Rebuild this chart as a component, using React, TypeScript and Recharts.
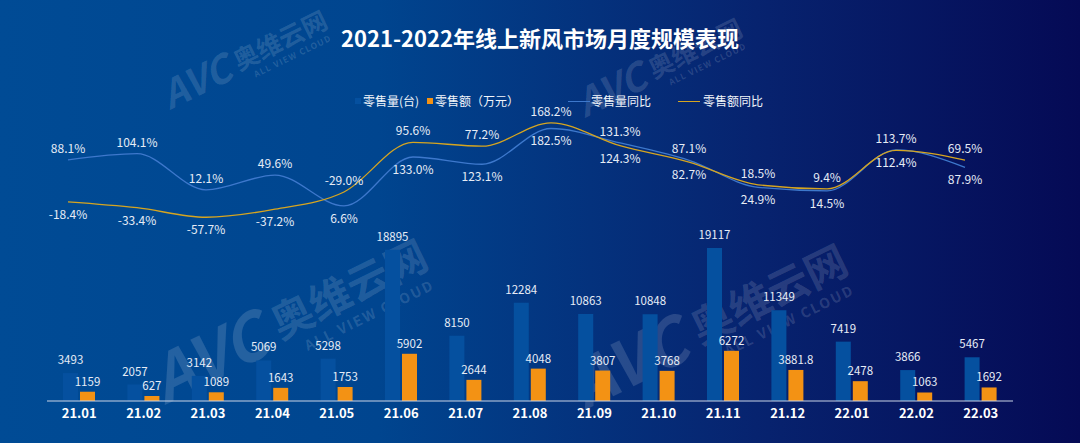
import { BarChart, Bar, XAxis, YAxis, LabelList, LineChart, Line } from 'recharts'

const months = ['21.01', '21.02', '21.03', '21.04', '21.05', '21.06', '21.07', '21.08', '21.09', '21.10', '21.11', '21.12', '22.01', '22.02', '22.03']
// 零售量(台)
const salesVolume = [3493, 2057, 3142, 5069, 5298, 18895, 8150, 12284, 10863, 10848, 19117, 11349, 7419, 3866, 5467]
// 零售额(万元)
const salesAmount = [1159, 627, 1089, 1643, 1753, 5902, 2644, 4048, 3807, 3768, 6272, 3881.8, 2478, 1063, 1692]
// 同比 (%), 14 points on their own axis
const volumeYoY = [88.1, 104.1, 12.1, 49.6, -29.0, 95.6, 77.2, 168.2, 131.3, 87.1, 18.5, 9.4, 113.7, 69.5]
const amountYoY = [-18.4, -33.4, -57.7, -37.2, 6.6, 133.0, 123.1, 182.5, 124.3, 82.7, 24.9, 14.5, 112.4, 87.9]

const barData = months.map((m, i) => ({ month: m, volume: salesVolume[i], amount: salesAmount[i] }))
const lineData = volumeYoY.map((v, i) => ({ idx: i, volumeYoY: v, amountYoY: amountYoY[i] }))

const FONT = "'Noto Sans CJK SC', 'Noto Sans', sans-serif"
const BAR_BLUE = '#05509f'
const BAR_ORANGE = '#f39214'
const LINE_BLUE = '#3d78cc'
const LINE_GOLD = '#d6a520'
const LABEL = '#e6ecf6'

// line plot: 110px tall for a 280-point domain
const LINE_TOP = 116
const LINE_H = 110
const Y_DOMAIN = [-80, 200]
const PX = LINE_H / (Y_DOMAIN[1] - Y_DOMAIN[0])

const pct = (v: any) => `${Number(v).toFixed(1)}%`

// keep the 零售量同比 label above both lines and the 零售额同比 label below both
const gap = (i: number) => Math.max(0, amountYoY[i] - volumeYoY[i]) * PX

const volumeLabel = (p: any) => (
  <text x={p.x} y={p.y - 7 - gap(p.index)} textAnchor="middle" fill={LABEL} fontSize={12} fontFamily={FONT}>
    {pct(p.value)}
  </text>
)
const amountLabel = (p: any) => (
  <text x={p.x} y={p.y + 17 + gap(p.index)} textAnchor="middle" fill={LABEL} fontSize={12} fontFamily={FONT}>
    {pct(p.value)}
  </text>
)

const watermarks = [
  { x: 170, y: 110, s: 0.6 },
  { x: 585, y: 118, s: 0.6 },
  { x: 165, y: 405, s: 1 },
  { x: 585, y: 410, s: 1 },
]

export default function App() {
  return (
    <div
      style={{
        position: 'absolute',
        left: 0,
        top: 0,
        width: 1080,
        height: 443,
        overflow: 'hidden',
        fontFamily: FONT,
        background: 'linear-gradient(90deg, #004b95 0%, #00458f 35%, #07236f 70%, #050a55 100%)',
      }}
    >
      {/* watermark */}
      <svg width={1080} height={443} style={{ position: 'absolute', left: 0, top: 0 }}>
        {watermarks.map((w, i) => (
          <g
            key={i}
            transform={`translate(${w.x} ${w.y}) rotate(-26) scale(${w.s})`}
            fill="#ffffff"
            fillOpacity={0.14}
            fontFamily={FONT}
            fontWeight={700}
          >
            <text x={0} y={0} fontSize={64} fontStyle="italic">AVC</text>
            <text x={132} y={-8} fontSize={42}>奥维云网</text>
            <text x={152} y={14} fontSize={14} letterSpacing={2}>ALL VIEW CLOUD</text>
          </g>
        ))}
      </svg>

      <div
        style={{
          position: 'absolute',
          top: 22,
          left: 0,
          width: 1080,
          textAlign: 'center',
          color: '#ffffff',
          fontSize: 22,
          fontWeight: 700,
          lineHeight: '30px',
        }}
      >
        2021-2022年线上新风市场月度规模表现
      </div>

      {/* legend */}
      <div style={{ position: 'absolute', top: 92, left: 0, height: 18, color: '#f2f5fa', fontSize: 12, lineHeight: '18px' }}>
        <span style={{ position: 'absolute', left: 355, top: 6, width: 6, height: 6, background: BAR_BLUE }} />
        <span style={{ position: 'absolute', left: 363, whiteSpace: 'nowrap' }}>零售量(台)</span>
        <span style={{ position: 'absolute', left: 427, top: 6, width: 6, height: 6, background: BAR_ORANGE }} />
        <span style={{ position: 'absolute', left: 435, whiteSpace: 'nowrap' }}>零售额（万元）</span>
        <span style={{ position: 'absolute', left: 568, top: 9, width: 22, height: 1, background: LINE_BLUE }} />
        <span style={{ position: 'absolute', left: 591, whiteSpace: 'nowrap' }}>零售量同比</span>
        <span style={{ position: 'absolute', left: 678, top: 9, width: 22, height: 1, background: LINE_GOLD }} />
        <span style={{ position: 'absolute', left: 703, whiteSpace: 'nowrap' }}>零售额同比</span>
      </div>

      <div style={{ position: 'absolute', left: 0, top: 0 }}>
        <BarChart width={1080} height={443} data={barData} margin={{ top: 241, right: 67, bottom: 12, left: 47 }} barSize={15} barGap={2}>
          <XAxis
            dataKey="month"
            axisLine={{ stroke: '#c9d3e6', strokeWidth: 1.2 }}
            tickLine={false}
            tick={{ fill: '#ffffff', fontSize: 13, fontWeight: 700, fontFamily: FONT }}
            interval={0}
          />
          <YAxis hide domain={[0, 20000]} />
          <Bar dataKey="volume" fill={BAR_BLUE} isAnimationActive={false}>
            <LabelList dataKey="volume" position="top" offset={9} fill={LABEL} fontSize={11.5} fontFamily={FONT} />
          </Bar>
          <Bar dataKey="amount" fill={BAR_ORANGE} isAnimationActive={false}>
            <LabelList dataKey="amount" position="top" offset={6} fill={LABEL} fontSize={11.5} fontFamily={FONT} />
          </Bar>
        </BarChart>
      </div>

      <div style={{ position: 'absolute', left: 0, top: 0 }}>
        <LineChart
          width={1080}
          height={443}
          data={lineData}
          margin={{ top: LINE_TOP, right: 115, bottom: 443 - LINE_TOP - LINE_H, left: 68 }}
        >
          <XAxis dataKey="idx" hide />
          <YAxis hide domain={Y_DOMAIN} />
          <Line type="monotone" dataKey="volumeYoY" stroke={LINE_BLUE} strokeWidth={1.3} dot={false} isAnimationActive={false}>
            <LabelList dataKey="volumeYoY" content={volumeLabel} />
          </Line>
          <Line type="monotone" dataKey="amountYoY" stroke={LINE_GOLD} strokeWidth={1.3} dot={false} isAnimationActive={false}>
            <LabelList dataKey="amountYoY" content={amountLabel} />
          </Line>
        </LineChart>
      </div>
    </div>
  )
}
